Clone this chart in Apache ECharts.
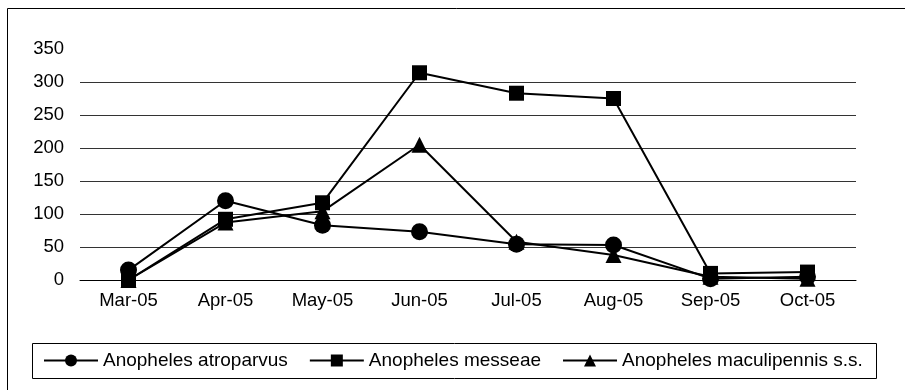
<!DOCTYPE html>
<html><head><meta charset="utf-8">
<script src="https://cdn.jsdelivr.net/npm/echarts@6/dist/echarts.min.js"></script>
<style>html,body{margin:0;padding:0;background:#fff}#c{width:905px;height:390px}</style>
</head><body><div id="c"></div>
<script>
var categories = ['Mar-05','Apr-05','May-05','Jun-05','Jul-05','Aug-05','Sep-05','Oct-05'];
var atroparvus = [15,120,83,73,54,53,2,5];
var messeae = [0,92,117,314,283,275,10,12];
var maculipennis = [0,87,104,205,58,38,5,2];
var seriesNames = ['Anopheles atroparvus','Anopheles messeae','Anopheles maculipennis s.s.'];

var font = 'Arial, "Liberation Sans", sans-serif';
var chart = echarts.init(document.getElementById('c'), null, {renderer:'canvas'});
function mk(name, data, sym, size){
  return {name:name, type:'line', data:data, symbol:sym, symbolSize:size,
    showAllSymbol:true, animation:false,
    lineStyle:{color:'#000', width:2}, itemStyle:{color:'#000'}};
}
chart.setOption({
  animation:false,
  backgroundColor:'#fff',
  grid:{left:80, right:49, top:49, bottom:110, containLabel:false},
  xAxis:{type:'category', data:categories, boundaryGap:true,
    axisLine:{lineStyle:{color:'#000', width:1}}, axisTick:{show:false},
    axisLabel:{color:'#000', fontFamily:font, fontSize:18.5, margin:11}},
  yAxis:{type:'value', min:0, max:350, interval:50,
    axisLine:{show:false}, axisTick:{show:false},
    splitLine:{show:true, showMaxLine:false, lineStyle:{color:'#333', width:1}},
    axisLabel:{color:'#000', fontFamily:font, fontSize:18.5, margin:16}},
  legend:{left:43, top:351, padding:0, itemGap:21, itemWidth:54, itemHeight:15,
    textStyle:{color:'#000', fontFamily:font, fontSize:19},
    data:seriesNames},
  graphic:[
    {type:'rect', shape:{x:7.5, y:8.5, width:1000, height:1000}, style:{fill:null, stroke:'#000', lineWidth:1}, silent:true, z:-1},
    {type:'rect', shape:{x:32.5, y:343.5, width:844, height:35}, style:{fill:null, stroke:'#000', lineWidth:1}, silent:true}
  ],
  series:[
    mk(seriesNames[0], atroparvus, 'circle', 17),
    mk(seriesNames[1], messeae, 'rect', 15),
    mk(seriesNames[2], maculipennis, 'triangle', 16)
  ]
});
</script></body></html>
